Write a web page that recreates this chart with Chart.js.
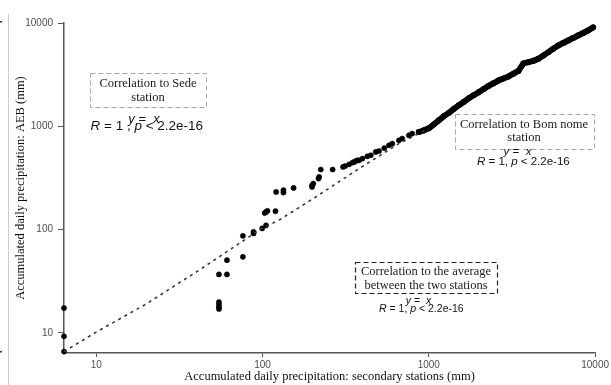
<!DOCTYPE html>
<html>
<head>
<meta charset="utf-8">
<script src="https://cdn.jsdelivr.net/npm/chart.js@4.4.1/dist/chart.umd.min.js"></script>
<style>
  html, body { margin: 0; padding: 0; background: #ffffff; }
  #wrap { width: 611px; height: 385px; position: relative; }
</style>
</head>
<body>
<div id="wrap"><canvas id="c" width="611" height="385"></canvas></div>
<script>
// ---- data (log-log, mm) ----
const tickValues = [10, 100, 1000, 10000];

// scattered station points
const dotX = [6.4, 6.4, 6.4, 54.7, 54.7, 54.7, 54.7, 54.7, 61.1, 61.1, 76.2, 76.2, 88.3, 88.3, 99.5, 105, 103, 105, 107, 119.7, 120.8, 133.6, 133.6, 153.8, 198.6, 198.6, 202, 217, 219, 224, 264, 305, 314, 332, 348, 356, 364, 372, 381, 399, 427, 448, 480, 502, 540, 576, 603, 661, 692, 759, 794];
const dotY = [17.4, 9.3, 6.6, 19.9, 18.8, 17.8, 17.1, 36.9, 36.9, 50.7, 54.6, 87.1, 91.8, 95.3, 102.8, 110, 145, 148.6, 152, 151, 231.7, 241, 228.6, 253.6, 259, 269, 279, 312, 324, 382, 382, 405, 413, 429, 446, 452, 462, 469, 469, 487, 513, 525, 565, 577, 615, 655, 680, 732, 761, 818, 850];

// dense upper cluster
const clusterX = [871, 935, 1000, 1070, 1148, 1230, 1318, 1410, 1514, 1620, 1738, 1860, 1992, 2140, 2287, 2450, 2626, 2810, 3015, 3230, 3461, 3707, 3972, 4250, 4561, 4890, 5236, 5600, 5998, 6430, 6887, 7380, 7907, 8480, 9078, 9727];
const clusterY = [881, 915, 957, 1040, 1143, 1250, 1349, 1470, 1596, 1720, 1866, 2000, 2133, 2300, 2463, 2610, 2782, 2900, 3041, 3230, 3436, 4061, 4180, 4300, 4508, 4850, 5224, 5640, 6066, 6400, 6776, 7150, 7572, 8000, 8466, 9061];

// dashed near-identity series
const lineX = [6.4, 10, 20, 42, 100, 126, 200, 381, 660, 1000];
const lineY = [6.6, 10.2, 19.1, 41, 104, 124, 198, 390, 680, 950];

const zip = (xs, ys) => xs.map((x, i) => ({ x: x, y: ys[i] }));

// ---- annotation plugin (boxes + stats text) ----
function drawRuns(ctx, runs, x, y, align, size) {
  const fam = '"Liberation Sans", Arial, sans-serif';
  const fontFor = r => (r.i ? 'italic ' : '') + size + 'px ' + fam;
  let total = 0;
  runs.forEach(r => { ctx.font = fontFor(r); r.w = ctx.measureText(r.t).width; total += r.w; });
  let cx = align === 'center' ? x - total / 2 : x;
  ctx.textAlign = 'left';
  ctx.textBaseline = 'alphabetic';
  runs.forEach(r => { ctx.font = fontFor(r); ctx.fillText(r.t, cx, y); cx += r.w; });
}

const annot = {
  id: 'annot',
  afterDatasetsDraw(chart, args, opts) {
    const ctx = chart.ctx;
    ctx.save();
    // thin page border seen at the left of the reference
    ctx.strokeStyle = '#cfcfcf';
    ctx.lineWidth = 1;
    ctx.beginPath(); ctx.moveTo(8.5, 14); ctx.lineTo(8.5, 385); ctx.stroke();
    ctx.fillStyle = '#333';
    ctx.fillRect(0, 21, 2, 1.5);
    ctx.fillRect(0, 351, 2, 1.5);

    opts.boxes.forEach(b => {
      ctx.setLineDash(b.dash);
      ctx.strokeStyle = b.color;
      ctx.lineWidth = b.lw;
      ctx.strokeRect(b.x1 + 0.5, b.y1 + 0.5, b.x2 - b.x1, b.y2 - b.y1);
      ctx.setLineDash([]);
      ctx.fillStyle = '#1a1a1a';
      ctx.font = '12.5px "Liberation Serif", "Times New Roman", serif';
      ctx.textAlign = 'center';
      ctx.textBaseline = 'alphabetic';
      b.lines.forEach((t, i) => ctx.fillText(t, b.cx, b.base[i]));
    });
    ctx.fillStyle = '#111';
    opts.stats.forEach(s => {
      drawRuns(ctx, s.eq, s.eqX, s.eqBase, 'center', s.eqSize);
      drawRuns(ctx, s.r, s.rX, s.rBase, 'left', s.rSize);
    });
    ctx.restore();
  }
};

const eqRuns = () => [{ t: 'y', i: true }, { t: ' =  ' }, { t: 'x', i: true }];

new Chart(document.getElementById('c'), {
  type: 'scatter',
  data: {
    datasets: [
      {
        label: 'line',
        data: zip(lineX, lineY),
        showLine: true,
        borderColor: '#3a3a3a',
        borderWidth: 1.6,
        borderDash: [3, 4],
        pointRadius: 0,
        clip: false
      },
      {
        label: 'points',
        data: zip(dotX, dotY),
        pointRadius: 2.6,
        pointBackgroundColor: '#000',
        pointBorderColor: '#000',
        pointBorderWidth: 0.5,
        clip: false
      },
      {
        label: 'cluster',
        data: zip(clusterX, clusterY),
        showLine: true,
        borderColor: '#000',
        borderWidth: 6,
        borderJoinStyle: 'round',
        borderCapStyle: 'round',
        pointRadius: 3,
        pointBorderWidth: 0,
        pointBackgroundColor: '#000',
        pointBorderColor: '#000',
        clip: false
      }
    ]
  },
  options: {
    responsive: false,
    animation: false,
    devicePixelRatio: 1,
    layout: { padding: { left: 0, right: 14, top: 23, bottom: 0 } },
    plugins: {
      legend: { display: false },
      tooltip: { enabled: false },
      annot: {
        boxes: [
          { x1: 90, y1: 73, x2: 206, y2: 107, color: '#a8a8a8', dash: [5, 3], lw: 1, cx: 148, base: [87, 101], lines: ['Correlation to Sede', 'station'] },
          { x1: 455, y1: 114, x2: 594, y2: 149, color: '#a8a8a8', dash: [5, 3], lw: 1, cx: 524, base: [127.5, 141], lines: ['Correlation to Bom nome', 'station'] },
          { x1: 355, y1: 262, x2: 497, y2: 293, color: '#222222', dash: [5, 3], lw: 1.2, cx: 426, base: [275, 289], lines: ['Correlation to the average', 'between the two stations'] }
        ],
        stats: [
          { eq: eqRuns(), eqX: 144, eqBase: 123, eqSize: 13,
            r: [{ t: 'R', i: true }, { t: ' = 1 , ' }, { t: 'p', i: true }, { t: ' < 2.2e-16' }], rX: 90.5, rBase: 130, rSize: 13.5 },
          { eq: eqRuns(), eqX: 517.5, eqBase: 155, eqSize: 11.5,
            r: [{ t: 'R', i: true }, { t: ' = 1, ' }, { t: 'p', i: true }, { t: ' < 2.2e-16' }], rX: 477, rBase: 165, rSize: 11.5 },
          { eq: eqRuns(), eqX: 418.5, eqBase: 303.5, eqSize: 10.5,
            r: [{ t: 'R', i: true }, { t: ' = 1, ' }, { t: 'p', i: true }, { t: ' < 2.2e-16' }], rX: 379, rBase: 311.5, rSize: 10.5 }
        ]
      }
    },
    scales: {
      x: {
        type: 'logarithmic',
        min: 6.4,
        max: 10000,
        afterBuildTicks: s => { s.ticks = tickValues.map(v => ({ value: v })); },
        afterFit: s => { s.height = 32; },
        ticks: {
          callback: v => String(v),
          color: '#4d4d4d',
          font: { family: '"Liberation Sans", Arial, sans-serif', size: 10 },
          padding: 2,
          maxRotation: 0,
          autoSkip: false
        },
        grid: { drawOnChartArea: false, drawTicks: true, tickLength: 4, color: '#555', lineWidth: 1 },
        border: { display: true, color: '#555', width: 1.5 },
        title: {
          display: true,
          text: 'Accumulated daily precipitation: secondary stations (mm)',
          color: '#111',
          font: { family: '"Liberation Serif", "Times New Roman", serif', size: 12.5 },
          padding: { top: 0, bottom: 1 }
        }
      },
      y: {
        type: 'logarithmic',
        min: 6.4,
        max: 10000,
        afterBuildTicks: s => { s.ticks = tickValues.map(v => ({ value: v })); },
        afterFit: s => { s.width = 64; },
        ticks: {
          callback: v => String(v),
          color: '#4d4d4d',
          font: { family: '"Liberation Sans", Arial, sans-serif', size: 10 },
          padding: 5,
          autoSkip: false
        },
        grid: { drawOnChartArea: false, drawTicks: true, tickLength: 6, color: '#555', lineWidth: 1 },
        border: { display: true, color: '#555', width: 1.5 },
        title: {
          display: true,
          text: 'Accumulated daily precipitation: AEB (mm)',
          color: '#111',
          font: { family: '"Liberation Serif", "Times New Roman", serif', size: 12.5 },
          padding: { top: 13, bottom: 0 }
        }
      }
    }
  },
  plugins: [annot]
});
</script>
</body>
</html>
